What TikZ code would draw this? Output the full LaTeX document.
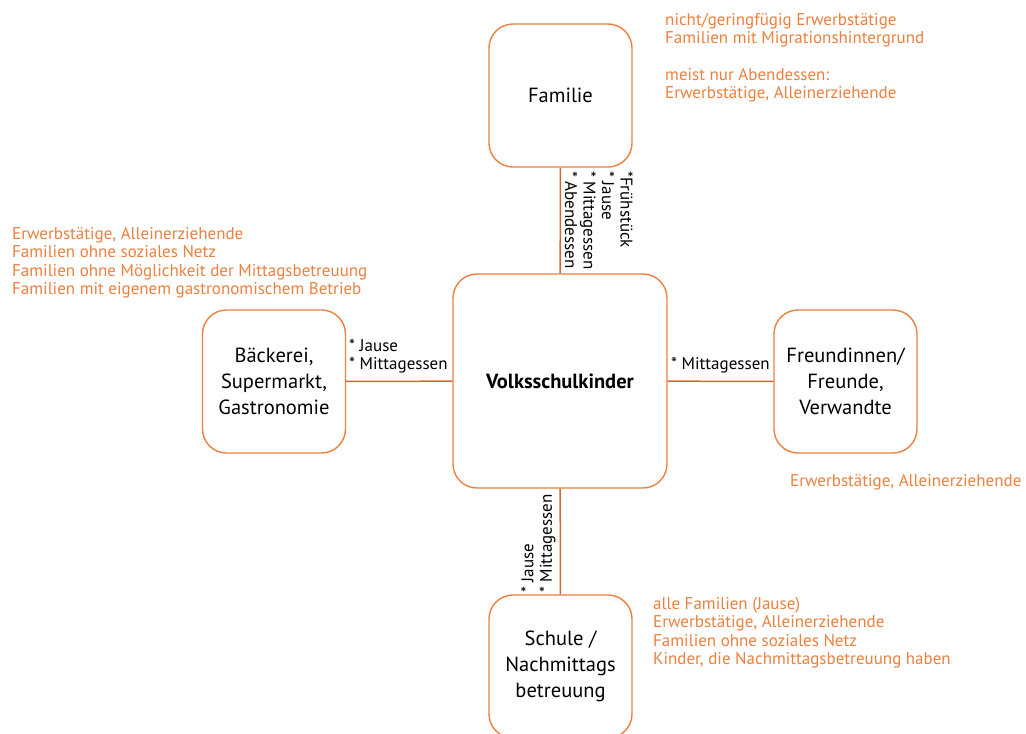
\documentclass[tikz,border=0pt]{standalone}
\usepackage{fontspec}
\setmainfont{PT Sans}
\definecolor{boxorange}{RGB}{236,128,62}

\newcommand*{\picw}{1026}
\newcommand*{\pich}{734}

\begin{document}
\begin{tikzpicture}
[
	x=1pt, y=-1pt,
	box/.style={rectangle,draw=boxorange,line width=1.4pt,rounded corners=24pt,
		minimum width=143pt,minimum height=143pt,align=center,
		font=\fontsize{20.5}{26}\selectfont},
	bigbox/.style={box,minimum width=214pt,minimum height=214pt},
	link/.style={line width=1.5pt,draw=boxorange!85!black},
	meal/.style={inner sep=0pt,align=left,font=\fontsize{17}{18.5}\selectfont},
	note/.style={inner sep=0pt,align=left,text=boxorange,font=\fontsize{17}{18.4}\selectfont}
]

	\useasboundingbox (0,0) rectangle (\picw,\pich);

	% boxes
	\node[bigbox] (kinder) at (560,381) {\textbf{Volksschulkinder}};
	\node[box] (familie) at (560.5,95.5) {Familie};
	\node[box] (laden) at (274,381.5) {Bäckerei,\\Supermarkt,\\Gastronomie};
	\node[box] (freunde) at (845.5,381.5) {Freundinnen/\\Freunde,\\Verwandte};
	\node[box] (schule) at (560.5,666.5) {Schule /\\Nachmittags\\betreuung};

	% connectors
	\draw[link] (familie) -- (kinder);
	\draw[link] (laden) -- (kinder);
	\draw[link] (freunde) -- (kinder);
	\draw[link] (schule) -- (kinder);

	% meals
	\node[meal,rotate=-90,anchor=north west] (mealtop) at (633,171)
		{*Frühstück\\* Jause\\* Mittagessen\\* Abendessen};
	\node[meal,anchor=north west] (mealleft) at (349,339) {* Jause\\* Mittagessen};
	\node[meal,anchor=north west] (mealright) at (671,357) {* Mittagessen};
	\node[meal,rotate=90,anchor=north west] (mealbottom) at (521,593) {* Jause\\* Mittagessen};

	% who
	\node[note,anchor=north west] (notefam) at (665,13)
		{nicht/geringfügig Erwerbstätige\\Familien mit Migrationshintergrund\\[18.4pt]%
		meist nur Abendessen:\\Erwerbstätige, Alleinerziehende};
	\node[note,anchor=north west] (noteladen) at (12,227)
		{Erwerbstätige, Alleinerziehende\\Familien ohne soziales Netz\\%
		Familien ohne Möglichkeit der Mittagsbetreuung\\Familien mit eigenem gastronomischem Betrieb};
	\node[note,anchor=north west] (notefreunde) at (790,474) {Erwerbstätige, Alleinerziehende};
	\node[note,anchor=north west] (noteschule) at (653,597)
		{alle Familien (Jause)\\Erwerbstätige, Alleinerziehende\\%
		Familien ohne soziales Netz\\Kinder, die Nachmittagsbetreuung haben};

\end{tikzpicture}
\end{document}
